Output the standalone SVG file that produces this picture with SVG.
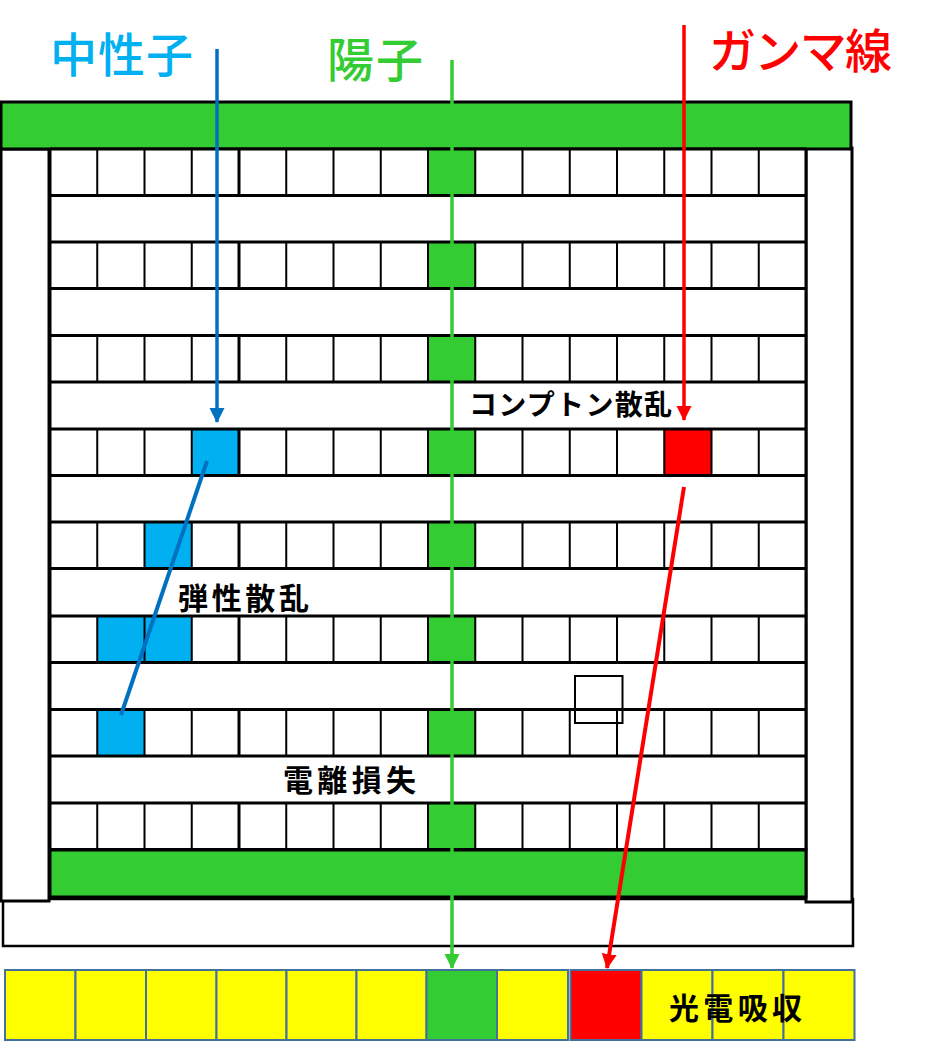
<svg xmlns="http://www.w3.org/2000/svg" width="931" height="1046" viewBox="0 0 931 1046">
<style>
.frame{fill:#fff;stroke:#000;stroke-width:3}
.gbar{fill:#33CC33;stroke:#000;stroke-width:3}
.hl{stroke:#000;stroke-width:3}
.vl{stroke:#000;stroke-width:2}
.vt{stroke:#000;stroke-width:3}
.g{fill:#33CC33}
.c{fill:#00B0F0}
.r{fill:#FF0000}
.y{fill:#FFFF00;stroke:#41719C;stroke-width:2}
.yg{fill:#33CC33;stroke:#41719C;stroke-width:2}
.yr{fill:#FF0000;stroke:#41719C;stroke-width:2}
.big{font-family:"Noto Sans CJK JP","Noto Sans",sans-serif;font-size:47px;font-weight:500}
.lbl{font-family:"Noto Sans CJK JP","Noto Sans",sans-serif;font-size:30px;font-weight:bold;fill:#000}
</style>
<defs>
<marker id="aBlue" markerUnits="userSpaceOnUse" markerWidth="16" markerHeight="16" refX="14" refY="7.5" orient="auto"><path d="M0,0 L15,7.5 L0,15 Z" fill="#0070C0"/></marker>
<marker id="aGreen" markerUnits="userSpaceOnUse" markerWidth="16" markerHeight="16" refX="14" refY="7.5" orient="auto"><path d="M0,0 L15,7.5 L0,15 Z" fill="#33CC33"/></marker>
<marker id="aRed" markerUnits="userSpaceOnUse" markerWidth="16" markerHeight="16" refX="14" refY="7.5" orient="auto"><path d="M0,0 L15,7.5 L0,15 Z" fill="#FF0000"/></marker>
</defs>
<rect width="931" height="1046" fill="#fff"/>

<g id="base-plate"><rect class="frame" x="3" y="899" width="850" height="47" style="stroke-width:2.5"/></g>
<g id="left-frame"><rect class="frame" x="1" y="149" width="48" height="752"/></g>
<g id="right-frame"><rect class="frame" x="806" y="148" width="46" height="754"/></g>
<g id="top-bar"><rect class="gbar" x="1" y="102" width="850" height="47"/></g>

<g id="grid">
<rect x="50" y="149" width="756" height="701" fill="#fff"/>
<g id="hit-cells">
<rect class="g" x="428" y="149" width="47.25" height="46.5"/>
<rect class="g" x="428" y="242" width="47.25" height="46.5"/>
<rect class="g" x="428" y="335.5" width="47.25" height="46.5"/>
<rect class="g" x="428" y="429" width="47.25" height="46.5"/>
<rect class="g" x="428" y="522" width="47.25" height="46.5"/>
<rect class="g" x="428" y="616" width="47.25" height="46.5"/>
<rect class="g" x="428" y="709.5" width="47.25" height="46.5"/>
<rect class="g" x="428" y="803" width="47.25" height="46.5"/>
<rect class="c" x="191.75" y="429" width="47.25" height="46.5"/>
<rect class="c" x="144.5" y="522" width="47.25" height="46.5"/>
<rect class="c" x="97.25" y="616" width="47.25" height="46.5"/>
<rect class="c" x="144.5" y="616" width="47.25" height="46.5"/>
<rect class="c" x="97.25" y="709.5" width="47.25" height="46.5"/>
<rect class="r" x="664.25" y="429" width="47.25" height="46.5"/>
</g>
<g id="grid-lines">
<path class="hl" d="M50,149H806M50,195.5H806M50,242H806M50,288.5H806M50,335.5H806M50,382H806M50,429H806M50,475.5H806M50,522H806M50,568.5H806M50,616H806M50,662.5H806M50,709.5H806M50,756H806M50,803H806M50,849.5H806"/>
<path class="vt" d="M50,149V850M806,149V850"/>
<path class="vl" d="M97.25,149v46.5M144.5,149v46.5M191.75,149v46.5M286.25,149v46.5M333.5,149v46.5M380.75,149v46.5M428,149v46.5M475.25,149v46.5M522.5,149v46.5M569.75,149v46.5M617,149v46.5M664.25,149v46.5M711.5,149v46.5M758.75,149v46.5
M97.25,242v46.5M144.5,242v46.5M191.75,242v46.5M286.25,242v46.5M333.5,242v46.5M380.75,242v46.5M428,242v46.5M475.25,242v46.5M522.5,242v46.5M569.75,242v46.5M617,242v46.5M664.25,242v46.5M711.5,242v46.5M758.75,242v46.5
M97.25,335.5v46.5M144.5,335.5v46.5M191.75,335.5v46.5M286.25,335.5v46.5M333.5,335.5v46.5M380.75,335.5v46.5M428,335.5v46.5M475.25,335.5v46.5M522.5,335.5v46.5M569.75,335.5v46.5M617,335.5v46.5M664.25,335.5v46.5M711.5,335.5v46.5M758.75,335.5v46.5
M97.25,429v46.5M144.5,429v46.5M191.75,429v46.5M286.25,429v46.5M333.5,429v46.5M380.75,429v46.5M428,429v46.5M475.25,429v46.5M522.5,429v46.5M569.75,429v46.5M617,429v46.5M664.25,429v46.5M711.5,429v46.5M758.75,429v46.5
M97.25,522v46.5M144.5,522v46.5M191.75,522v46.5M286.25,522v46.5M333.5,522v46.5M380.75,522v46.5M428,522v46.5M475.25,522v46.5M522.5,522v46.5M569.75,522v46.5M617,522v46.5M664.25,522v46.5M711.5,522v46.5M758.75,522v46.5
M97.25,616v46.5M144.5,616v46.5M191.75,616v46.5M286.25,616v46.5M333.5,616v46.5M380.75,616v46.5M428,616v46.5M475.25,616v46.5M522.5,616v46.5M569.75,616v46.5M617,616v46.5M664.25,616v46.5M711.5,616v46.5M758.75,616v46.5
M97.25,709.5v46.5M144.5,709.5v46.5M191.75,709.5v46.5M286.25,709.5v46.5M333.5,709.5v46.5M380.75,709.5v46.5M428,709.5v46.5M475.25,709.5v46.5M522.5,709.5v46.5M569.75,709.5v46.5M617,709.5v46.5M664.25,709.5v46.5M711.5,709.5v46.5M758.75,709.5v46.5
M97.25,803v46.5M144.5,803v46.5M191.75,803v46.5M286.25,803v46.5M333.5,803v46.5M380.75,803v46.5M428,803v46.5M475.25,803v46.5M522.5,803v46.5M569.75,803v46.5M617,803v46.5M664.25,803v46.5M711.5,803v46.5M758.75,803v46.5"/>
<path class="vt" d="M239,149v46.5M239,242v46.5M239,335.5v46.5M239,429v46.5M239,522v46.5M239,616v46.5M239,709.5v46.5M239,803v46.5"/>
</g>
</g>

<g id="bottom-bar"><rect class="gbar" x="50" y="850" width="756" height="47"/></g>
<g id="marker-box"><rect x="575" y="676" width="47.5" height="47" fill="none" stroke="#000" stroke-width="2"/></g>

<g id="detector-row">
<rect class="y" x="5" y="970" width="70.5" height="70"/>
<rect class="y" x="75.5" y="970" width="70.5" height="70"/>
<rect class="y" x="146" y="970" width="70.5" height="70"/>
<rect class="y" x="216.5" y="970" width="70" height="70"/>
<rect class="y" x="286.5" y="970" width="70" height="70"/>
<rect class="y" x="356.5" y="970" width="70" height="70"/>
<rect class="yg" x="426.5" y="970" width="70.5" height="70"/>
<rect class="y" x="497" y="970" width="71" height="70"/>
<rect class="yr" x="570.5" y="970" width="71" height="70"/>
<rect class="y" x="641.5" y="970" width="71" height="70"/>
<rect class="y" x="712.5" y="970" width="71" height="70"/>
<rect class="y" x="783.5" y="970" width="71" height="70"/>
</g>

<g id="connectors" fill="none">
<line x1="217" y1="49" x2="217" y2="422" stroke="#0070C0" stroke-width="3.5" marker-end="url(#aBlue)"/>
<line x1="207" y1="461" x2="121" y2="715" stroke="#0070C0" stroke-width="4"/>
<line x1="452" y1="60" x2="452" y2="968" stroke="#33CC33" stroke-width="3.5" marker-end="url(#aGreen)"/>
<line x1="684" y1="25" x2="684" y2="420" stroke="#FF0000" stroke-width="3.5" marker-end="url(#aRed)"/>
<line x1="684" y1="487" x2="607" y2="968" stroke="#FF0000" stroke-width="4" marker-end="url(#aRed)"/>
</g>

<g id="labels">
<text class="big" x="50" y="72" fill="#00B0F0" textLength="143">中性子</text>
<text class="big" x="327" y="77" fill="#33CC33" textLength="96">陽子</text>
<text class="big" x="709" y="68" fill="#FF0000" textLength="183">ガンマ線</text>
<text class="lbl" x="469" y="415" style="font-size:28px" textLength="203" lengthAdjust="spacing">コンプトン散乱</text>
<text class="lbl" x="178" y="609" textLength="131" lengthAdjust="spacing">弾性散乱</text>
<text class="lbl" x="283" y="791" textLength="133" lengthAdjust="spacing">電離損失</text>
<text class="lbl" x="669" y="1019" textLength="133" lengthAdjust="spacing">光電吸収</text>
</g>
</svg>
